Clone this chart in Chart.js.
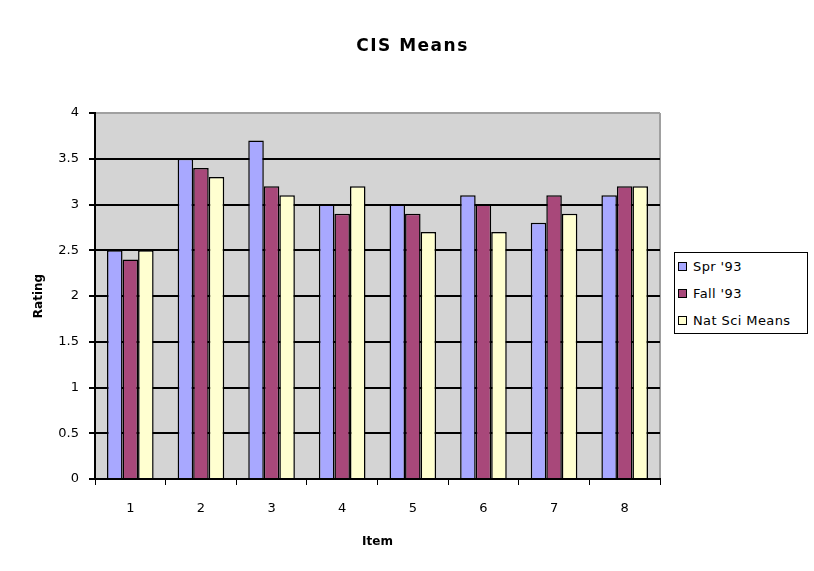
<!DOCTYPE html>
<html>
<head>
<meta charset="utf-8">
<script src="https://cdn.jsdelivr.net/npm/chart.js@4.4.0/dist/chart.umd.min.js"></script>
<style>
  html, body { margin: 0; padding: 0; background: #fff; }
  #wrap { position: relative; width: 814px; height: 571px; }
  #c { position: absolute; left: 0; top: 0; }
  #title { position: absolute; left: 0; width: 825px; top: 35px; text-align: center;
           font: bold 17px "DejaVu Sans", sans-serif; letter-spacing: 1.5px; color: #000; }
  #legend { position: absolute; left: 674px; top: 252px; width: 132px; height: 80px;
            border: 1px solid #000; background: #fff; font: 13px "DejaVu Sans", sans-serif; letter-spacing: 0.4px; }
  .li { position: absolute; left: 3px; height: 16px; line-height: 16px; white-space: nowrap; }
  .sw { display: inline-block; width: 7px; height: 7px; border: 1px solid #000; margin-right: 6px; vertical-align: 0px; }
</style>
</head>
<body>
<div id="wrap">
  <canvas id="c" width="814" height="571"></canvas>
  <div id="title">CIS Means</div>
  <div id="legend"></div>
</div>
<script>
const categories = ['1', '2', '3', '4', '5', '6', '7', '8'];
const spr93 = [2.5, 3.5, 3.7, 3.0, 3.0, 3.1, 2.8, 3.1];
const fall93 = [2.4, 3.4, 3.2, 2.9, 2.9, 3.0, 3.1, 3.2];
const natSci = [2.5, 3.3, 3.1, 3.2, 2.7, 2.7, 2.9, 3.2];
const seriesNames = ["Spr '93", "Fall '93", "Nat Sci Means"];
const seriesColors = ['#a8a8ff', '#a8487a', '#ffffd0'];
const yTicks = [0, 0.5, 1, 1.5, 2, 2.5, 3, 3.5, 4];

const bgPlugin = {
  id: 'plotBg',
  beforeDraw(chart) {
    const a = chart.chartArea, ctx = chart.ctx;
    ctx.save();
    ctx.fillStyle = '#d4d4d4';
    ctx.fillRect(a.left, a.top, a.right - a.left, a.bottom - a.top);
    ctx.strokeStyle = '#a0a0a0';
    ctx.lineWidth = 2;
    ctx.beginPath();
    ctx.moveTo(a.right, a.top);
    ctx.lineTo(a.right, a.bottom);
    ctx.stroke();
    ctx.restore();
  }
};

const series = [spr93, fall93, natSci];
new Chart(document.getElementById('c'), {
  type: 'bar',
  data: {
    labels: categories,
    datasets: series.map((d, i) => ({
      label: seriesNames[i],
      data: d,
      backgroundColor: seriesColors[i],
      borderColor: '#000',
      borderWidth: 1.5,
      categoryPercentage: 0.66,
      barPercentage: 1.0
    }))
  },
  options: {
    responsive: false,
    animation: false,
    devicePixelRatio: 1,
    layout: { padding: { left: 0, right: 154, top: 113, bottom: 20 } },
    plugins: { legend: { display: false }, title: { display: false }, tooltip: { enabled: false } },
    scales: {
      x: {
        afterFit(s) { s.height = 72; },
        grid: { display: true, drawOnChartArea: false, drawTicks: true, tickLength: 6, color: '#000', offset: true },
        border: { display: true, color: '#000', width: 2 },
        ticks: { color: '#000', font: { family: 'DejaVu Sans', size: 13 }, padding: 16 },
        title: { display: true, text: 'Item', color: '#000', font: { family: 'DejaVu Sans', size: 12, weight: 'bold' }, padding: { top: 0, bottom: 2 } }
      },
      y: {
        min: 0, max: 4,
        afterFit(s) { s.width = 95; },
        afterBuildTicks(s) { s.ticks = yTicks.map(v => ({ value: v })); },
        grid: {
          color: ctx => (ctx.tick && ctx.tick.value === 4) ? '#a0a0a0' : '#000',
          tickColor: '#000',
          lineWidth: 2,
          tickLength: 6
        },
        border: { display: true, color: '#000', width: 2 },
        ticks: { color: '#000', font: { family: 'DejaVu Sans', size: 13 }, padding: 10,
                 callback: v => String(v) },
        title: { display: true, text: 'Rating', color: '#000', font: { family: 'DejaVu Sans', size: 12, weight: 'bold' }, padding: { top: 32 } }
      }
    }
  },
  plugins: [bgPlugin]
});

const lg = document.getElementById('legend');
seriesNames.forEach((n, i) => {
  const d = document.createElement('div');
  d.className = 'li';
  d.style.top = (6 + i * 27) + 'px';
  d.innerHTML = '<span class="sw" style="background:' + seriesColors[i] + '"></span>';
  d.appendChild(document.createTextNode(n));
  lg.appendChild(d);
});
</script>
</body>
</html>
